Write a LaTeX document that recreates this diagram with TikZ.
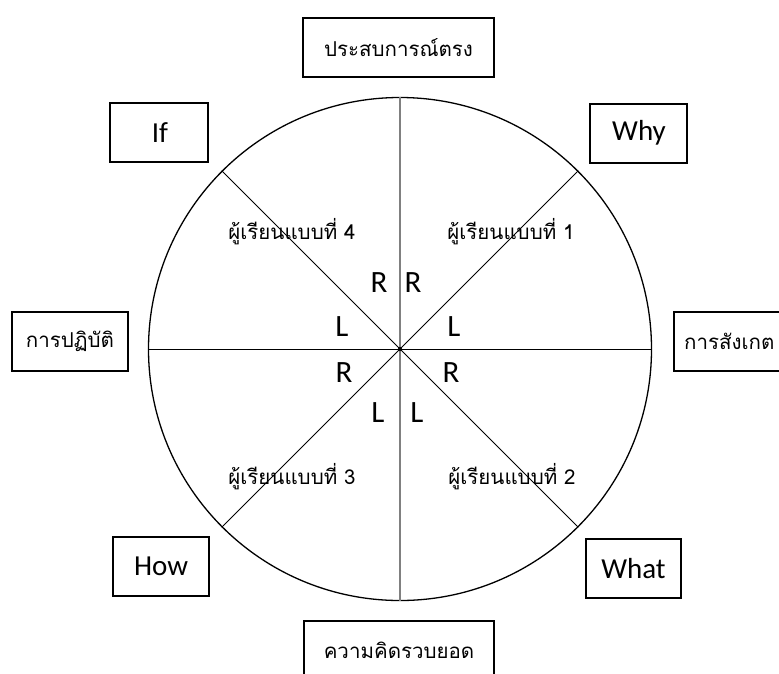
\documentclass[tikz,border=0pt]{standalone}
\usepackage{fontspec}
\setmainfont{Carlito}
\newfontfamily\thai[Script=Thai]{Loma}
\begin{document}
\begin{tikzpicture}[x=1pt,y=-1pt,
  box/.style={draw=black, line width=1.3pt, inner sep=0pt},
  lat/.style={font=\fontsize{29}{31}\selectfont},
  th/.style={font=\thai\fontsize{20.5}{23}\selectfont},
  rl/.style={font=\fontsize{31}{33}\selectfont, inner sep=0pt}]
\useasboundingbox (0,0) rectangle (779,673);
\clip (0,0) rectangle (779,673);
\coordinate (c) at (400,349);
\node[circle, draw=black, line width=1.3pt, minimum size=503pt, inner sep=0pt] (ring) at (c) {};
\draw[line width=0.9pt] (ring.180) -- (ring.0);
\draw[line width=0.9pt] (ring.45) -- (ring.225);
\draw[line width=0.9pt] (ring.135) -- (ring.315);
\draw[line width=1.6pt, black!50] (ring.90) -- (ring.270);
\fill (c) circle (2pt);
% boxes
\node[box, minimum width=191pt, minimum height=59pt] (top) at (398.5,47.5) {};
\node[th] at (top.center) {ประสบการณ์ตรง};
\node[box, minimum width=98pt, minimum height=59pt] (if) at (159,132.5) {};
\node[lat] at (160,132.5) {If};
\node[box, minimum width=97pt, minimum height=59pt] (why) at (638.5,133.5) {};
\node[lat] at (639,132.5) {Why};
\node[box, minimum width=116pt, minimum height=59pt] (left) at (70,341.5) {};
\node[th] at (left.center) {การปฏิบัติ};
\node[box, minimum width=116pt, minimum height=59pt] (right) at (732,341.5) {};
\node[th, anchor=west, inner sep=0pt] at (684,341.5) {การสังเกต};
\node[box, minimum width=96pt, minimum height=59pt] (how) at (161,566.5) {};
\node[lat] at (how.center) {How};
\node[box, minimum width=95pt, minimum height=59pt] (what) at (633.5,568.5) {};
\node[lat] at (what.center) {What};
\node[box, minimum width=190pt, minimum height=79pt] (bot) at (399,660.5) {};
\node[th] at (399,650) {ความคิดรวบยอด};
% learner labels
\node[th] (l4) at (292,232) {ผู้เรียนแบบที่ 4};
\node[th] (l1) at (511,232) {ผู้เรียนแบบที่ 1};
\node[th] (l3) at (292,477) {ผู้เรียนแบบที่ 3};
\node[th] (l2) at (512,477) {ผู้เรียนแบบที่ 2};
% R / L
\node[rl] (r1) at (379,283) {R};
\node[rl] (r2) at (413,283) {R};
\node[rl] (l5) at (342,327) {L};
\node[rl] (l6) at (454,327) {L};
\node[rl] (r3) at (344,373) {R};
\node[rl] (r4) at (451,373) {R};
\node[rl] (l7) at (378,413) {L};
\node[rl] (l8) at (417,413) {L};
\end{tikzpicture}
\end{document}
